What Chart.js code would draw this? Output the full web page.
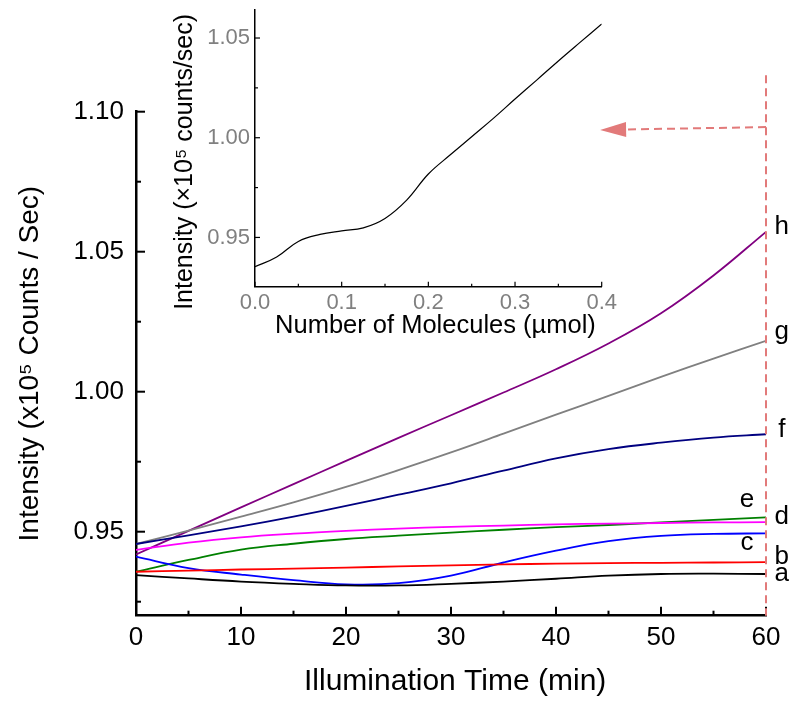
<!DOCTYPE html>
<html>
<head>
<meta charset="utf-8">
<script src="https://cdn.jsdelivr.net/npm/chart.js@4.4.1/dist/chart.umd.min.js"></script>
<style>
  html, body { margin: 0; padding: 0; background: #ffffff; }
  #wrap { position: relative; width: 800px; height: 710px; overflow: hidden; }
  #main { position: absolute; left: 0; top: 0; width: 800px; height: 710px; }
  #inset { position: absolute; left: 140px; top: 0; width: 480px; height: 345px; }
</style>
</head>
<body>
<div id="wrap">
  <canvas id="main" width="800" height="710"></canvas>
  <canvas id="inset" width="480" height="345"></canvas>
</div>
<script>
// ---------------- data: main chart ----------------
const times = [0, 5, 10, 15, 20, 25, 30, 35, 40, 45, 50, 55, 60];
const seriesA = [0.9345, 0.9333, 0.9322, 0.9314, 0.9308, 0.9308, 0.9314, 0.9322, 0.9332, 0.9343, 0.9349, 0.9350, 0.9349];
const seriesB = [0.9357, 0.9361, 0.9365, 0.9368, 0.9372, 0.9376, 0.9380, 0.9383, 0.9386, 0.9388, 0.9389, 0.9390, 0.9391];
const seriesC = [0.9411, 0.9370, 0.9347, 0.9327, 0.9312, 0.9316, 0.9343, 0.9390, 0.9432, 0.9466, 0.9485, 0.9492, 0.9494];
const seriesMagenta = [0.9435, 0.9461, 0.9480, 0.9493, 0.9503, 0.9511, 0.9517, 0.9522, 0.9526, 0.9529, 0.9531, 0.9533, 0.9534];
const seriesGreen = [0.9357, 0.9399, 0.9436, 0.9457, 0.9474, 0.9486, 0.9497, 0.9507, 0.9516, 0.9524, 0.9533, 0.9542, 0.9551];
const seriesF = [0.9456, 0.9487, 0.9519, 0.9554, 0.9592, 0.9632, 0.9673, 0.9718, 0.9762, 0.9795, 0.9818, 0.9836, 0.9848];
const seriesG = [0.9456, 0.9504, 0.9554, 0.9605, 0.9660, 0.9720, 0.9783, 0.9850, 0.9918, 0.9985, 1.0053, 1.0118, 1.0182];
const seriesH = [0.9419, 0.9503, 0.9587, 0.9670, 0.9753, 0.9835, 0.9916, 0.9997, 1.0080, 1.0172, 1.0280, 1.0415, 1.0571];

const xMajorTicks = [0, 10, 20, 30, 40, 50, 60];
const xMinorTicks = [5, 15, 25, 35, 45, 55];
const yMajorTicks = [0.95, 1.00, 1.05, 1.10];
const yMinorTicks = [0.925, 0.975, 1.025, 1.075];

// curve letters (text, time, value)
const curveLabels = ['a', 'b', 'c', 'd', 'e', 'f', 'g', 'h'];
const curveLabelTimes = [61.5, 61.5, 58.2, 61.5, 58.2, 61.5, 61.5, 61.5];
const curveLabelValues = [0.9349, 0.9411, 0.9459, 0.9554, 0.9613, 0.9863, 1.0214, 1.0589];

// dashed marker at t = 60 and arrow toward inset
const markerTime = 60;
const markerTopValue = 1.113;
const arrowStart = [60, 1.0945];
const arrowTip = [44.2, 1.0935];

// ---------------- data: inset ----------------
const insetMolecules = [0, 0.025, 0.05, 0.075, 0.1, 0.125, 0.15, 0.175, 0.2, 0.225, 0.25, 0.275, 0.3, 0.325, 0.35, 0.375, 0.4];
const insetIntensity = [0.9353, 0.9402, 0.9480, 0.9515, 0.9533, 0.9548, 0.9595, 0.9687, 0.9818, 0.9913, 1.0005, 1.0097, 1.0194, 1.0289, 1.0385, 1.0478, 1.0570];
const insetXMajor = [0, 0.1, 0.2, 0.3, 0.4];
const insetXMinor = [0.05, 0.15, 0.25, 0.35];
const insetYMajor = [0.95, 1.00, 1.05];
const insetYMinor = [0.975, 1.025];

// ---------------- helpers ----------------
const FONT = "'Liberation Sans', Arial, Helvetica, sans-serif";
const toPoints = (xs, ys) => xs.map((x, i) => ({ x: x, y: ys[i] }));

function tickMarksPlugin(id, xMaj, xMin, yMaj, yMin, majLen, minLen, width) {
  return {
    id: id,
    afterDraw(chart) {
      const { ctx, chartArea: a, scales } = chart;
      const x = scales.x, y = scales.y;
      ctx.save();
      ctx.strokeStyle = '#000';
      ctx.lineWidth = width;
      const dx = (vals, len) => vals.forEach(v => {
        const p = x.getPixelForValue(v);
        ctx.beginPath(); ctx.moveTo(p, a.bottom); ctx.lineTo(p, a.bottom - len); ctx.stroke();
      });
      const dy = (vals, len) => vals.forEach(v => {
        const p = y.getPixelForValue(v);
        ctx.beginPath(); ctx.moveTo(a.left, p); ctx.lineTo(a.left + len, p); ctx.stroke();
      });
      dx(xMaj, majLen); dx(xMin, minLen); dy(yMaj, majLen); dy(yMin, minLen);
      ctx.restore();
    }
  };
}

const annotationPlugin = {
  id: 'annot',
  afterDraw(chart) {
    const { ctx, scales: { x, y } } = chart;
    ctx.save();
    // curve letters
    ctx.fillStyle = '#000';
    ctx.font = '26px ' + FONT;
    ctx.textAlign = 'center';
    ctx.textBaseline = 'middle';
    curveLabels.forEach((t, i) => {
      ctx.fillText(t, x.getPixelForValue(curveLabelTimes[i]), y.getPixelForValue(curveLabelValues[i]));
    });
    // dashed vertical marker
    const col = '#e27a7a';
    ctx.strokeStyle = col;
    ctx.lineWidth = 2;
    ctx.setLineDash([8, 5]);
    const mx = x.getPixelForValue(markerTime);
    ctx.beginPath();
    ctx.moveTo(mx, y.getPixelForValue(markerTopValue));
    ctx.lineTo(mx, y.getPixelForValue(y.min));
    ctx.stroke();
    // dashed arrow
    const sx = x.getPixelForValue(arrowStart[0]), sy = y.getPixelForValue(arrowStart[1]);
    const tx = x.getPixelForValue(arrowTip[0]), ty = y.getPixelForValue(arrowTip[1]);
    const headLen = 26, headHalf = 7.5;
    const ang = Math.atan2(ty - sy, tx - sx);
    const bx = tx - headLen * Math.cos(ang), by = ty - headLen * Math.sin(ang);
    ctx.beginPath();
    ctx.moveTo(sx, sy);
    ctx.lineTo(bx, by);
    ctx.stroke();
    ctx.setLineDash([]);
    ctx.fillStyle = col;
    ctx.beginPath();
    ctx.moveTo(tx, ty);
    ctx.lineTo(bx - headHalf * Math.sin(ang), by + headHalf * Math.cos(ang));
    ctx.lineTo(bx + headHalf * Math.sin(ang), by - headHalf * Math.cos(ang));
    ctx.closePath();
    ctx.fill();
    ctx.restore();
  }
};

function ds(label, values, color) {
  return {
    label: label,
    data: toPoints(times, values),
    borderColor: color,
    backgroundColor: color,
    borderWidth: 1.8,
    pointRadius: 0,
    fill: false,
    tension: 0.4
  };
}

// ---------------- main chart ----------------
new Chart(document.getElementById('main'), {
  type: 'line',
  data: {
    datasets: [
      ds('a', seriesA, '#000000'),
      ds('b', seriesB, '#ff0000'),
      ds('c', seriesC, '#0000ff'),
      ds('d', seriesMagenta, '#ff00ff'),
      ds('e', seriesGreen, '#008000'),
      ds('f', seriesF, '#000080'),
      ds('g', seriesG, '#808080'),
      ds('h', seriesH, '#800080')
    ]
  },
  options: {
    responsive: false,
    animation: false,
    layout: { padding: { left: 0, right: 34, top: 111.7, bottom: 0 } },
    plugins: { legend: { display: false }, tooltip: { enabled: false } },
    scales: {
      x: {
        type: 'linear', min: 0, max: 60,
        afterBuildTicks: s => { s.ticks = xMajorTicks.map(v => ({ value: v })); },
        afterFit: s => { s.height = 94.3; s.paddingLeft = 0; s.paddingRight = 0; },
        grid: { display: false, drawTicks: false },
        border: { display: true, color: '#000', width: 2.5 },
        ticks: { padding: 6.5, color: '#000', font: { family: FONT, size: 26 }, maxRotation: 0, autoSkip: false },
        title: { display: true, text: '\u00a0Illumination Time (min)', color: '#000', font: { family: FONT, size: 30 }, padding: { top: 0, bottom: 10 } }
      },
      y: {
        type: 'linear', min: 0.92, max: 1.10,
        afterBuildTicks: s => { s.ticks = yMajorTicks.map(v => ({ value: v })); },
        afterFit: s => { s.width = 136; s.paddingTop = 0; s.paddingBottom = 0; },
        grid: { display: false, drawTicks: false },
        border: { display: true, color: '#000', width: 2.5 },
        ticks: { padding: 12, color: '#000', font: { family: FONT, size: 26 }, autoSkip: false, callback: v => Number(v).toFixed(2) },
        title: { display: true, text: 'Intensity (x10\u2075 Counts / Sec)', color: '#000', font: { family: FONT, size: 28 }, padding: { top: 13, bottom: 0 } }
      }
    }
  },
  plugins: [tickMarksPlugin('mainTicks', xMajorTicks, xMinorTicks, yMajorTicks, yMinorTicks, 9, 5, 2), annotationPlugin]
});

// ---------------- inset chart ----------------
new Chart(document.getElementById('inset'), {
  type: 'line',
  data: {
    datasets: [{
      label: 'inset',
      data: toPoints(insetMolecules, insetIntensity),
      borderColor: '#000',
      borderWidth: 1.2,
      pointRadius: 0,
      fill: false,
      tension: 0.4
    }]
  },
  options: {
    responsive: false,
    animation: false,
    layout: { padding: { left: 0, right: 18.3, top: 9.3, bottom: 0 } },
    plugins: { legend: { display: false }, tooltip: { enabled: false } },
    scales: {
      x: {
        type: 'linear', min: 0, max: 0.4,
        afterBuildTicks: s => { s.ticks = insetXMajor.map(v => ({ value: v })); },
        afterFit: s => { s.height = 58.3; s.paddingLeft = 0; s.paddingRight = 0; },
        grid: { display: false, drawTicks: false },
        border: { display: true, color: '#000', width: 1.5 },
        ticks: { padding: 3, color: '#808080', font: { family: FONT, size: 22 }, maxRotation: 0, autoSkip: false, callback: v => Number(v).toFixed(1) },
        title: { display: true, text: '\u00a0\u00a0Number of Molecules (\u00b5mol)', color: '#000', font: { family: FONT, size: 25.5 }, padding: { top: 0, bottom: 4 } }
      },
      y: {
        type: 'linear', min: 0.9253, max: 1.0644,
        afterBuildTicks: s => { s.ticks = insetYMajor.map(v => ({ value: v })); },
        afterFit: s => { s.width = 115; s.paddingTop = 0; s.paddingBottom = 0; },
        grid: { display: false, drawTicks: false },
        border: { display: true, color: '#000', width: 1.5 },
        ticks: { padding: 5, color: '#808080', font: { family: FONT, size: 22 }, autoSkip: false, callback: v => Number(v).toFixed(2) },
        title: { display: true, text: 'Intensity (\u00d710\u2075 counts/sec)\u00a0\u00a0\u00a0\u00a0', color: '#000', font: { family: FONT, size: 25 }, padding: { top: 30, bottom: 0 } }
      }
    }
  },
  plugins: [tickMarksPlugin('insetTicks', insetXMajor, insetXMinor, insetYMajor, insetYMinor, 5, 3, 1.2)]
});
</script>
</body>
</html>
